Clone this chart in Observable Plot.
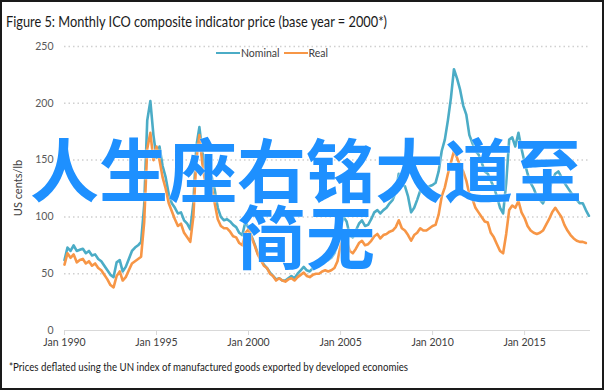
<!DOCTYPE html>
<html>
<head>
<meta charset="utf-8">
<script src="https://cdn.jsdelivr.net/npm/d3@7"></script>
<script src="https://cdn.jsdelivr.net/npm/@observablehq/plot@0.6"></script>
<style>
  html, body { margin: 0; padding: 0; background: #fff; }
  #wrap { position: relative; width: 604px; height: 390px; overflow: hidden; background: #fff; font-family: Lato, "Open Sans", sans-serif; }
  #wrap svg { position: absolute; left: 0; top: 0; }
  .abs { position: absolute; white-space: nowrap; }
  #title { left: 6px; top: 11px; font-size: 16px; color: #1a1a1a; transform-origin: 0 0; }
  #foot { left: 9px; top: 360px; font-size: 11.5px; color: #1a1a1a; transform-origin: 0 0; }
  #ylab { left: 17px; top: 188px; font-size: 11px; color: #404040; transform: translate(-50%, -50%) rotate(-90deg); }
  #legend { left: 216px; top: 47px; font-size: 10.5px; color: #404040; display: flex; align-items: center; }
  #legend .sw { display: inline-block; width: 24px; height: 2.5px; margin-right: 1px; }
  #legend .it { display: flex; align-items: center; margin-right: 4px; }
  #wm { left: 4px; top: 134px; width: 604px; text-align: center; font-family: "Noto Sans CJK SC", sans-serif; font-weight: 700; font-size: 69px; line-height: 67px; color: #1e90ff; text-shadow: 0 0 2px #fff; white-space: normal; }
  #border { position: absolute; left: 0; top: 0; width: 604px; height: 390px; box-sizing: border-box; border: 2px solid #1a1a1a; pointer-events: none; }
</style>
</head>
<body>
<div id="wrap">
  <div id="title" class="abs">Figure 5: Monthly  ICO composite indicator price (base year = 2000*)</div>
  <div id="ylab" class="abs">US cents/lb</div>
  <div id="legend" class="abs"></div>
  <div id="foot" class="abs">*Prices deflated using the UN index of manufactured goods exported by developed economies</div>
  <div id="wm" class="abs">人生座右铭大道至<br>简无</div>
  <div id="border"></div>
</div>
<script>
// Bi-monthly readings (Jan, Mar, May, Jul, Sep, Nov) starting Jan 1990
const nominal = [
  62, 73, 70, 75, 70, 71,      // 1990
  72, 68, 70, 66, 67, 63,      // 1991
  61, 57, 53, 49, 47, 60,      // 1992
  62, 52, 56, 63, 70, 73,      // 1993
  75, 78, 110, 185, 202, 172,  // 1994
  152, 162, 145, 135, 120, 112,// 1995
  108, 103, 104, 97, 94, 89,   // 1996
  112, 162, 179, 156, 140, 132,// 1997
  135, 124, 108, 100, 97, 98,  // 1998
  96, 93, 91, 86, 84, 96,      // 1999
  90, 83, 76, 68, 63, 58,      // 2000
  55, 51, 48, 45, 46, 44,      // 2001
  44, 46, 48, 46, 50, 53,      // 2002
  56, 53, 52, 55, 57, 58,      // 2003
  61, 63, 62, 64, 68, 76,      // 2004
  92, 100, 96, 84, 82, 88,     // 2005
  94, 97, 92, 93, 98, 104,     // 2006
  106, 103, 106, 108, 112, 115,// 2007
  122, 138, 128, 127, 118, 104,// 2008
  108, 115, 123, 122, 126, 127,// 2009
  128, 130, 140, 158, 168, 185,// 2010
  205, 230, 222, 212, 198, 190,// 2011
  172, 165, 158, 155, 148, 140,// 2012
  138, 132, 126, 118, 108, 103,// 2013
  130, 168, 170, 162, 174, 160,// 2014
  148, 138, 130, 125, 118, 115,// 2015
  112, 118, 124, 132, 138, 140,// 2016
  135, 130, 126, 122, 118, 115,// 2017
  112, 112, 106, 101           // 2018
];
const real = [
  58, 68, 64, 67, 60, 62,      // 1990
  63, 59, 61, 57, 59, 55,      // 1991
  53, 49, 45, 40, 38, 48,      // 1992
  52, 44, 47, 53, 59, 61,      // 1993
  63, 65, 95, 160, 174, 150,   // 1994
  162, 150, 135, 125, 112, 105,// 1995
  98, 92, 94, 86, 82, 78,      // 1996
  100, 150, 172, 146, 128, 120,// 1997
  126, 112, 98, 92, 90, 90,    // 1998
  87, 83, 82, 77, 75, 86,      // 1999
  89, 82, 75, 67, 62, 57,      // 2000
  55, 50, 48, 44, 46, 44,      // 2001
  43, 45, 46, 44, 47, 49,      // 2002
  51, 48, 47, 49, 50, 50,      // 2003
  52, 53, 52, 53, 55, 61,      // 2004
  75, 82, 79, 70, 68, 72,      // 2005
  77, 79, 75, 76, 79, 83,      // 2006
  85, 81, 84, 85, 87, 88,      // 2007
  91, 97, 90, 88, 84, 79,      // 2008
  84, 86, 90, 88, 88, 90,      // 2009
  92, 93, 102, 118, 126, 138,  // 2010
  148, 158, 152, 145, 140, 132,// 2011
  120, 116, 108, 104, 100, 96, // 2012
  95, 86, 82, 76, 70, 68,      // 2013
  85, 106, 110, 108, 114, 104, // 2014
  99, 92, 88, 86, 85, 86,      // 2015
  88, 93, 98, 104, 108, 104,   // 2016
  100, 93, 88, 84, 81, 79,     // 2017
  78, 78, 77                   // 2018
];
const seriesNames = ["Nominal", "Real"];
const seriesColors = ["#4BACC6", "#F79646"];
const xTickYears = [1990, 1995, 2000, 2005, 2010, 2015];
const yTicks = [0, 50, 100, 150, 200, 250];

const toDate = i => new Date(Date.UTC(1990, i * 2, 1));
const rows = [
  ...nominal.map((v, i) => ({date: toDate(i), value: v, series: "Nominal"})),
  ...real.map((v, i) => ({date: toDate(i), value: v, series: "Real"}))
];

const chart = Plot.plot({
  width: 604, height: 390,
  marginLeft: 64, marginRight: 14, marginTop: 46, marginBottom: 60,
  style: {fontFamily: "Lato, 'Open Sans', sans-serif", fontSize: "10.5px", color: "#595959", background: "transparent"},
  x: {type: "utc", domain: [new Date(Date.UTC(1990, 0, 1)), new Date(Date.UTC(2018, 7, 1))]},
  y: {domain: [0, 250]},
  color: {domain: seriesNames, range: seriesColors},
  marks: [
    Plot.ruleY(yTicks.filter(d => d > 0), {stroke: "#d0d0d0", strokeWidth: 1.5, strokeDasharray: "1.5,3"}),
    Plot.ruleY([0], {stroke: "#d9d9d9", strokeWidth: 1}),
    Plot.axisY({ticks: yTicks, tickSize: 0, tickPadding: 11, label: null, fill: "#595959"}),
    Plot.axisX({ticks: xTickYears.map(y => new Date(Date.UTC(y, 0, 1))), tickFormat: d => "Jan " + d.getUTCFullYear(), tickSize: 5, tickPadding: 3, stroke: "#d9d9d9", label: null, fill: "#404040"}),
    Plot.lineY(rows.filter(d => d.series === "Nominal"), {x: "date", y: "value", stroke: "series", strokeWidth: 2.6}),
    Plot.lineY(rows.filter(d => d.series === "Real"), {x: "date", y: "value", stroke: "series", strokeWidth: 2.6})
  ]
});
document.getElementById("wrap").insertBefore(chart, document.getElementById("title"));

// legend
const lg = document.getElementById("legend");
seriesNames.forEach((n, i) => {
  const it = document.createElement("span");
  it.className = "it";
  it.innerHTML = `<span class="sw" style="background:${seriesColors[i]}"></span><span>${n}</span>`;
  lg.appendChild(it);
});

// fit texts to reference widths
function fit(id, w) {
  const el = document.getElementById(id);
  const cur = el.getBoundingClientRect().width;
  el.style.transform = `scaleX(${w / cur})`;
}
fit("title", 381);
fit("foot", 399);
</script>
</body>
</html>
